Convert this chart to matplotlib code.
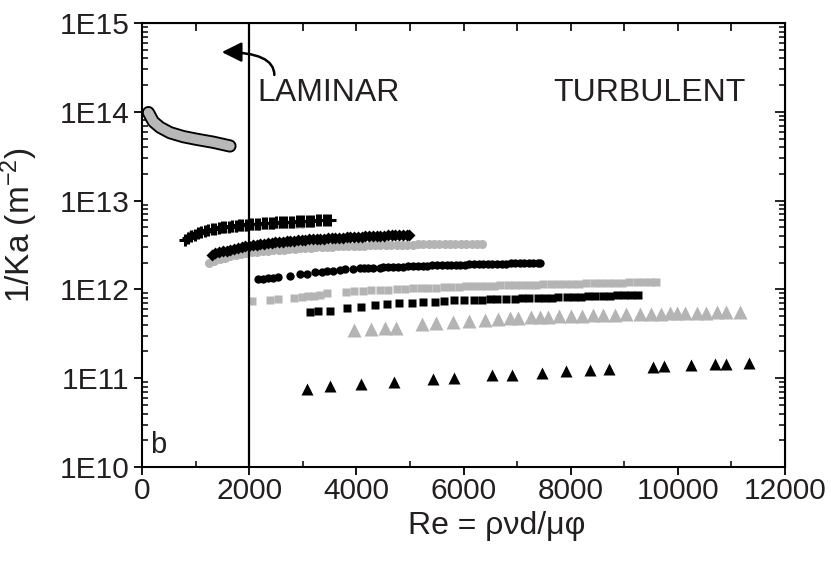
import matplotlib
matplotlib.use('Agg')
import matplotlib.pyplot as plt
from matplotlib.ticker import FixedLocator, FuncFormatter, LogLocator, MultipleLocator, NullFormatter
import numpy as np

plt.rcParams['font.family'] = ['Liberation Sans', 'DejaVu Sans']
plt.rcParams['mathtext.default'] = 'regular'

# laminar run (thick grey curve)
lam_re = [120, 211, 336, 523, 771, 1021, 1331, 1642]
lam_k = [9.8e13, 7.75e13, 6.69e13, 5.82e13, 5.25e13, 4.90e13, 4.54e13, 4.12e13]

# black crosses
plus_re = [800, 860, 920, 985, 1050, 1110, 1175, 1240, 1300, 1365, 1430, 1490, 1555, 1620, 1680,
           1745, 1810, 1870, 1935, 2000, 2060, 2125, 2190, 2250, 2315, 2380, 2440, 2505, 2570, 2630,
           2695, 2760, 2820, 2885, 2950, 3010, 3075, 3140, 3200, 3265, 3330, 3390, 3455, 3500]
plus_k = [3.6, 3.8, 3.95, 4.1, 4.3, 4.45, 4.55, 4.7, 4.78, 4.85, 4.92, 4.98, 5.05, 5.1, 5.15,
          5.2, 5.25, 5.3, 5.35, 5.4, 5.45, 5.48, 5.52, 5.55, 5.6, 5.63, 5.66, 5.68, 5.7, 5.73,
          5.75, 5.77, 5.79, 5.82, 5.85, 5.88, 5.9, 5.93, 5.95, 5.97, 6.0, 6.02, 6.05, 6.08]

# grey points under the crosses
gplus_re = [890, 960, 1030, 1100, 1170, 1240, 1310, 1380, 1450, 1520, 1600, 1680, 1760, 1840, 1920,
            2000, 2080, 2170, 2260, 2350, 2440, 2530, 2620, 2710, 2800, 2890, 2980, 3070, 3150]
gplus_k = [4.25, 4.3, 4.35, 4.4, 4.45, 4.5, 4.55, 4.6, 4.65, 4.7, 4.75, 4.8, 4.85, 4.9, 4.95,
           5.0, 5.05, 5.1, 5.15, 5.18, 5.22, 5.25, 5.28, 5.3, 5.33, 5.35, 5.38, 5.4, 5.42]

# black diamonds
dia_re = [1300, 1370, 1440, 1510, 1580, 1650, 1720, 1790, 1860, 1930, 2000, 2070, 2140, 2210, 2280,
          2350, 2420, 2490, 2560, 2630, 2700, 2770, 2840, 2910, 2980, 3050, 3120, 3190, 3260, 3330,
          3400, 3470, 3540, 3610, 3680, 3750, 3820, 3890, 3960, 4030, 4100, 4170, 4240, 4310, 4380,
          4450, 4520, 4590, 4660, 4730, 4800, 4870, 4940, 4980]
dia_k = [2.45, 2.55, 2.62, 2.68, 2.74, 2.8, 2.86, 2.92, 2.98, 3.05, 3.12, 3.16, 3.2, 3.24, 3.28,
         3.32, 3.36, 3.4, 3.43, 3.46, 3.49, 3.52, 3.55, 3.58, 3.6, 3.63, 3.66, 3.68, 3.7, 3.72,
         3.74, 3.76, 3.78, 3.8, 3.82, 3.84, 3.86, 3.88, 3.89, 3.91, 3.93, 3.95, 3.96, 3.98, 4.0,
         4.01, 4.03, 4.05, 4.06, 4.08, 4.09, 4.11, 4.12, 4.13]

# grey circles
gcir_re = [1250, 1350, 1450, 1550, 1650, 1750, 1850, 1950, 2050, 2150, 2250, 2350, 2450, 2550, 2650,
           2750, 2850, 2950, 3050, 3150, 3250, 3350, 3450, 3550, 3650, 3750, 3850, 3950, 4050, 4150,
           4250, 4350, 4450, 4550, 4650, 4750, 4850, 4950, 5050, 5150, 5250, 5350, 5450, 5550, 5650,
           5750, 5850, 5950, 6050, 6150, 6250, 6350]
gcir_k = [2.0, 2.1, 2.19, 2.27, 2.35, 2.42, 2.49, 2.56, 2.61, 2.65, 2.69, 2.72, 2.75, 2.78, 2.81,
          2.84, 2.87, 2.9, 2.93, 2.95, 2.97, 2.99, 3.01, 3.03, 3.05, 3.06, 3.08, 3.09, 3.11, 3.12,
          3.13, 3.14, 3.15, 3.16, 3.17, 3.18, 3.19, 3.19, 3.2, 3.21, 3.22, 3.22, 3.23, 3.23, 3.24,
          3.24, 3.25, 3.25, 3.26, 3.26, 3.27, 3.27]

# black circles
bcir_re = [2170, 2260, 2360, 2450, 2540, 2760, 2950, 3070, 3230, 3350, 3450, 3570, 3700, 3790, 3940,
           4070, 4140, 4220, 4320, 4440, 4500, 4600, 4690, 4780, 4880, 4970, 5060, 5160, 5250, 5310,
           5410, 5500, 5590, 5690, 5770, 5860, 5940, 6030, 6110, 6200, 6280, 6370, 6450, 6540, 6620,
           6710, 6790, 6880, 6960, 7050, 7130, 7220, 7300, 7390, 7430]
bcir_k = [1.30, 1.32, 1.34, 1.36, 1.38, 1.43, 1.48, 1.51, 1.55, 1.58, 1.60, 1.63, 1.66, 1.68, 1.70,
          1.72, 1.73, 1.74, 1.75, 1.76, 1.77, 1.78, 1.79, 1.80, 1.81, 1.82, 1.83, 1.84, 1.85, 1.855,
          1.86, 1.87, 1.875, 1.88, 1.89, 1.895, 1.9, 1.905, 1.91, 1.92, 1.925, 1.93, 1.935, 1.94, 1.945,
          1.95, 1.955, 1.96, 1.965, 1.97, 1.975, 1.98, 1.985, 1.99, 1.99]

# grey squares
gsq_re = [2060, 2380, 2530, 2830, 2980, 3100, 3210, 3330, 3460, 3800, 3960, 4130, 4280, 4440, 4600,
          4760, 4910, 5060, 5200, 5330, 5480, 5630, 5760, 5910, 6040, 6180, 6310, 6430, 6560, 6690,
          6830, 6960, 7090, 7230, 7360, 7490, 7630, 7760, 7890, 8030, 8160, 8290, 8430, 8560, 8690,
          8830, 8960, 9090, 9230, 9360, 9490, 9590]
gsq_k = [0.74, 0.76, 0.77, 0.81, 0.82, 0.835, 0.85, 0.87, 0.90, 0.93, 0.95, 0.96, 0.975, 0.985, 0.995,
         1.005, 1.015, 1.025, 1.03, 1.04, 1.05, 1.055, 1.065, 1.07, 1.08, 1.085, 1.09, 1.10, 1.105, 1.11,
         1.115, 1.12, 1.125, 1.13, 1.135, 1.14, 1.145, 1.15, 1.155, 1.16, 1.165, 1.17, 1.175, 1.18, 1.185,
         1.19, 1.195, 1.20, 1.205, 1.21, 1.215, 1.22]

# black squares
bsq_re = [3130, 3280, 3500, 3830, 4090, 4350, 4570, 4790, 5040, 5240, 5460, 5640, 5830, 6010, 6190,
          6350, 6490, 6630, 6800, 6960, 7090, 7230, 7390, 7530, 7660, 7760, 7930, 8060, 8200, 8330,
          8460, 8600, 8730, 8860, 8990, 9130, 9260]
bsq_k = [0.56, 0.565, 0.57, 0.61, 0.64, 0.665, 0.685, 0.70, 0.71, 0.72, 0.73, 0.74, 0.75, 0.755, 0.76,
         0.765, 0.77, 0.775, 0.78, 0.785, 0.79, 0.795, 0.80, 0.805, 0.81, 0.815, 0.82, 0.825, 0.83, 0.835,
         0.84, 0.845, 0.85, 0.855, 0.86, 0.862, 0.865]

# grey triangles
gtri_re = [3950, 4280, 4530, 4740, 5230, 5480, 5800, 6110, 6400, 6640, 6860, 7020, 7260, 7420, 7580,
           7790, 8000, 8210, 8420, 8610, 8830, 9030, 9290, 9490, 9690, 9860, 9990, 10130, 10350, 10530,
           10730, 10890, 11160]
gtri_k = [3.45, 3.6, 3.7, 3.72, 4.05, 4.2, 4.35, 4.44, 4.56, 4.64, 4.72, 4.80, 4.85, 4.93, 4.93,
          4.98, 5.02, 5.07, 5.11, 5.15, 5.20, 5.25, 5.29, 5.33, 5.33, 5.38, 5.43, 5.43, 5.47, 5.47,
          5.52, 5.52, 5.57]

# black triangles
btri_re = [3070, 3510, 4080, 4710, 5430, 5820, 6530, 6910, 7470, 7920, 8360, 8720, 9540, 9750, 10250,
           10690, 10890, 11320]
btri_k = [0.76, 0.81, 0.87, 0.91, 0.97, 1.00, 1.08, 1.09, 1.15, 1.21, 1.23, 1.26, 1.33, 1.37, 1.41,
          1.45, 1.45, 1.47]

grey = '#b4b4b4'
ink = '#231f20'

fig = plt.figure(figsize=(8.31, 5.65), dpi=100)
ax = fig.add_axes([142 / 831, 1 - 467 / 565, 643 / 831, 444 / 565])

# laminar curve: black outline with grey core
ax.plot(lam_re, lam_k, color='k', lw=9.5, solid_capstyle='round', solid_joinstyle='round', zorder=3)
ax.plot(lam_re, lam_k, color='#b8b8b8', lw=6.8, solid_capstyle='round', solid_joinstyle='round', zorder=4)

ax.plot(gplus_re, np.array(gplus_k) * 1e12, 'o', color=grey, ms=5, mec='none', zorder=3)
ax.plot(plus_re, np.array(plus_k) * 1e12, '+', color='k', ms=8, mew=2.2, zorder=4)
ax.plot(gcir_re, np.array(gcir_k) * 1e12, 'o', color=grey, ms=6.5, mec='none', zorder=3)
ax.plot(dia_re, np.array(dia_k) * 1e12, 'D', color='k', ms=6, mec='none', zorder=4)
ax.plot(bcir_re, np.array(bcir_k) * 1e12, 'o', color='k', ms=6, mec='none', zorder=4)
ax.plot(gsq_re, np.array(gsq_k) * 1e12, 's', color=grey, ms=5.5, mec='none', zorder=3)
ax.plot(bsq_re, np.array(bsq_k) * 1e12, 's', color='k', ms=6, mec='none', zorder=4)
ax.plot(gtri_re, np.array(gtri_k) * 1e11, '^', color=grey, ms=10, mec='none', zorder=3)
ax.plot(btri_re, np.array(btri_k) * 1e11, '^', color='k', ms=8.5, mec='none', zorder=4)

# laminar / turbulent boundary
ax.axvline(2000, color='k', lw=1.6, zorder=5)
ax.annotate('', xy=(1490, 4.7e14), xytext=(2470, 2.6e14),
            arrowprops=dict(arrowstyle='-|>,head_length=0.6,head_width=0.3',
                            connectionstyle='angle3,angleA=90,angleB=0', color='k', lw=1.8,
                            mutation_scale=20, shrinkA=0, shrinkB=0))
ax.text(0.180, 0.842, 'LAMINAR', transform=ax.transAxes, fontsize=23, va='center', ha='left', color=ink)
ax.text(0.639, 0.842, 'TURBULENT', transform=ax.transAxes, fontsize=23, va='center', ha='left', color=ink)
ax.text(0.013, 0.05, 'b', transform=ax.transAxes, fontsize=21, va='center', ha='left', color=ink)

ax.set_yscale('log')
ax.set_xlim(0, 12000)
ax.set_ylim(1e10, 1e15)
ax.xaxis.set_major_locator(MultipleLocator(2000))
ax.xaxis.set_minor_locator(MultipleLocator(1000))
ax.yaxis.set_major_locator(FixedLocator([1e10, 1e11, 1e12, 1e13, 1e14, 1e15]))
ax.yaxis.set_major_formatter(FuncFormatter(lambda v, p: '1E%d' % round(np.log10(v))))
ax.yaxis.set_minor_locator(LogLocator(base=10, subs=np.arange(2, 10)))
ax.yaxis.set_minor_formatter(NullFormatter())

ax.tick_params(which='major', direction='out', length=6, width=1.3, labelsize=21.5, pad=3,
               labelcolor=ink)
ax.tick_params(axis='x', which='major', pad=1)
ax.tick_params(which='minor', direction='in', length=4, width=1.1)
for lab in ax.get_xticklabels():
    lab.set_fontfamily(['Liberation Sans Narrow', 'Liberation Sans'])
for sp in ax.spines.values():
    sp.set_linewidth(1.5)

# inward ticks on top and right
top = ax.secondary_xaxis('top')
top.xaxis.set_major_locator(MultipleLocator(1000))
top.tick_params(direction='in', length=6, width=1.2, labeltop=False)
right = ax.secondary_yaxis('right')
right.yaxis.set_major_locator(FixedLocator([1e10, 1e11, 1e12, 1e13, 1e14, 1e15]))
right.yaxis.set_minor_locator(LogLocator(base=10, subs=np.arange(2, 10)))
right.yaxis.set_minor_formatter(NullFormatter())
right.tick_params(which='major', direction='in', length=7, width=1.2, labelright=False)
right.tick_params(which='minor', direction='in', length=4, width=1.1)

ax.set_xlabel('Re = ρνd/μφ', fontsize=23, color=ink)
ax.xaxis.set_label_coords(0.551, -0.1)
ax.set_ylabel('1/Ka (m$^{-2}$)', fontsize=24, color=ink)
ax.yaxis.set_label_coords(-0.158, 0.545)

fig.savefig('out.png', dpi=100)
